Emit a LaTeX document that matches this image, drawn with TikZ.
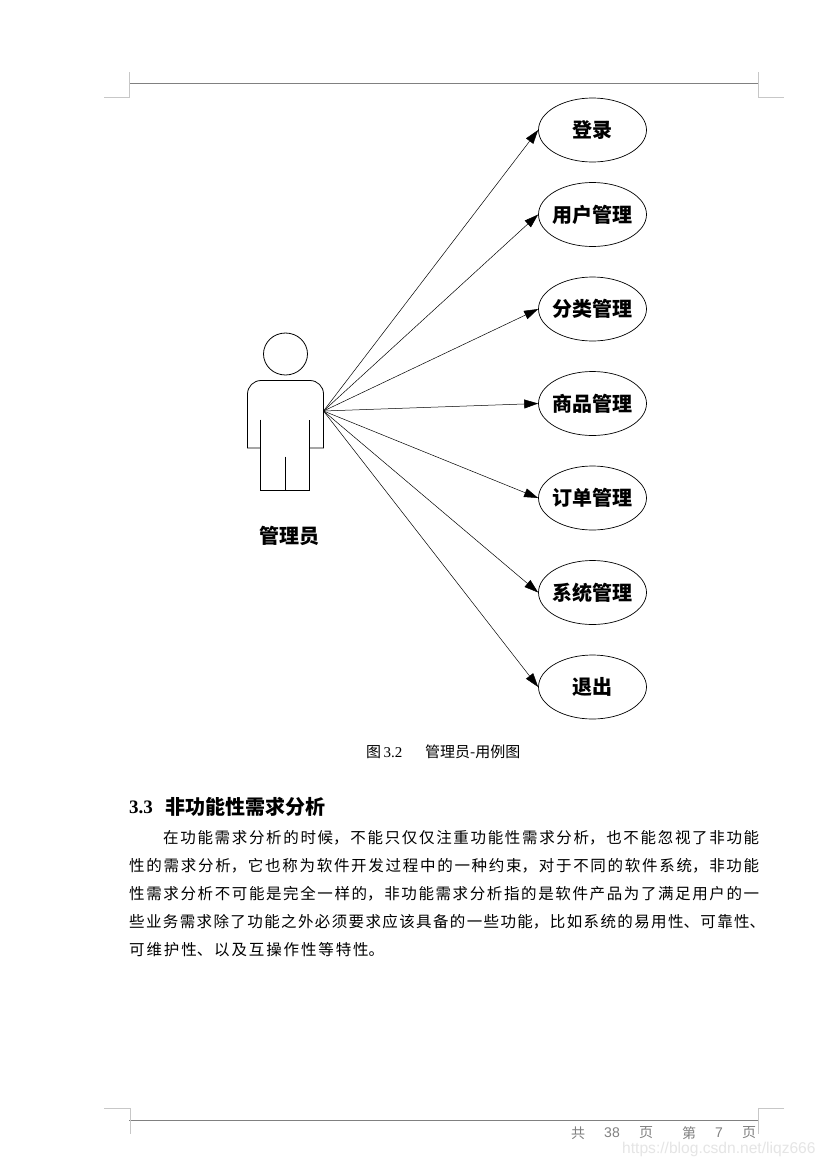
\documentclass[tikz,border=0pt]{standalone}
\usepackage{fontspec}
\usetikzlibrary{arrows.meta,shapes.geometric}
\setmainfont{Liberation Serif}
\newfontfamily\cjk{Noto Sans CJK SC}
\definecolor{rulegray}{gray}{0.5}
\definecolor{markgray}{gray}{0.78}
\definecolor{footgray}{gray}{0.5}
\definecolor{wmgray}{gray}{0.9}
\newfontfamily\wmfont{Liberation Sans}
\XeTeXlinebreaklocale "zh"
\XeTeXlinebreakskip=0pt plus 4pt
\tikzset{
  x=1pt,y=-1pt,
  usecase/.style={draw,ellipse,line width=0.7pt,minimum width=108pt,minimum height=64pt,inner sep=0pt,font=\fontsize{20}{22}\selectfont\cjk\bfseries},
  assoc/.style={-{Triangle[length=14pt,width=9pt]},line width=0.5pt},
  actorline/.style={line width=0.8pt},
  bodyline/.style={inner sep=0pt,anchor=west,align=justify,font=\fontsize{15.5}{18}\selectfont\cjk},
  capt/.style={inner sep=0pt,anchor=west,font=\fontsize{15}{16}\selectfont},
  foot/.style={inner sep=0pt,text=footgray,font=\fontsize{14}{16}\selectfont\cjk},
  rulemain/.style={draw=rulegray,line width=1.2pt},
  cropmark/.style={draw=markgray,line width=1pt},
}
\newcommand{\bl}[1]{\parfillskip=0pt #1\par}
\newcommand{\ucl}[1]{\makebox[0pt]{#1}}
\begin{document}
\begin{tikzpicture}
\useasboundingbox[fill=white] (0,0) rectangle (827,1167);
% page marks
\draw[rulemain] (129,83.5) -- (758,83.5);
\draw[cropmark] (129.5,72) -- (129.5,97.5) -- (104,97.5);
\draw[cropmark] (758,72) -- (758,97.5) -- (784,97.5);
\draw[rulemain] (129,1120.7) -- (758,1120.7);
\draw[cropmark] (104,1108) -- (130,1108) -- (130,1134);
\draw[cropmark] (784,1108) -- (758,1108) -- (758,1134);
% actor
\draw[actorline] (285.5,354) ellipse [x radius=22,y radius=21];
\draw[actorline,rounded corners=13.5pt] (260.5,448) [sharp corners] -- (247.5,448) [rounded corners=13.5pt] -- (247.5,380.5) -- (323.5,380.5) [sharp corners] -- (323.5,448) -- (309.5,448);
\draw[actorline] (260.5,419.5) -- (260.5,490) -- (309.5,490) -- (309.5,419.5);
\draw[actorline] (285.5,456.7) -- (285.5,490);
\node[inner sep=0pt,font=\fontsize{20}{22}\selectfont\cjk\bfseries] (actorlabel) at (289,536) {管理员};
\coordinate (hand) at (323.5,411);
% use cases
\node[usecase] (e1) at (592.5,130) {\ucl{登录}};
\node[usecase] (e2) at (592.5,214.5) {\ucl{用户管理}};
\node[usecase] (e3) at (592.5,309) {\ucl{分类管理}};
\node[usecase] (e4) at (592.5,403.5) {\ucl{商品管理}};
\node[usecase] (e5) at (592.5,498) {\ucl{订单管理}};
\node[usecase] (e6) at (592.5,592.5) {\ucl{系统管理}};
\node[usecase] (e7) at (592.5,687) {\ucl{退出}};
\foreach \n in {e1,e2,e3,e4,e5,e6,e7} \draw[assoc] (hand) -- (\n.west);
% caption
\node[capt] (cap1) at (366,752) {{\cjk 图}\,3.2};
\node[capt] (cap2) at (425,752) {\cjk 管理员-用例图};
% heading
\node[inner sep=0pt,anchor=west,font=\fontsize{19}{20}\selectfont\bfseries] (h1) at (129,807) {3.3};
\node[inner sep=0pt,anchor=west,font=\fontsize{20}{22}\selectfont\cjk\bfseries] (h2) at (165,807) {非功能性需求分析};
% body
\node[bodyline,text width=596pt] (l1) at (163,838) {\bl{在功能需求分析的时候，不能只仅仅注重功能性需求分析，也不能忽视了非功能}};
\node[bodyline,text width=630pt] (l2) at (129,866) {\bl{性的需求分析，它也称为软件开发过程中的一种约束，对于不同的软件系统，非功能}};
\node[bodyline,text width=630pt] (l3) at (129,894) {\bl{性需求分析不可能是完全一样的，非功能需求分析指的是软件产品为了满足用户的一}};
\node[bodyline,text width=636pt] (l4) at (129,922) {\bl{些业务需求除了功能之外必须要求应该具备的一些功能，比如系统的易用性、可靠性、}};
\node[bodyline,text width=255pt] (l5) at (129,950) {\bl{可维护性、以及互操作性等特性。}};
% footer
\node[foot] (f1) at (578,1133) {共};
\node[foot] (f2) at (612,1133) {\wmfont 38};
\node[foot] (f3) at (646,1133) {页};
\node[foot] (f4) at (689,1133) {第};
\node[foot] (f5) at (719,1133) {\wmfont 7};
\node[foot] (f6) at (749,1133) {页};
\node[inner sep=0pt,anchor=west,text=wmgray,font=\fontsize{15.6}{20}\selectfont\wmfont] (wm) at (622,1149) {https://blog.csdn.net/liqz666};
\end{tikzpicture}
\end{document}
